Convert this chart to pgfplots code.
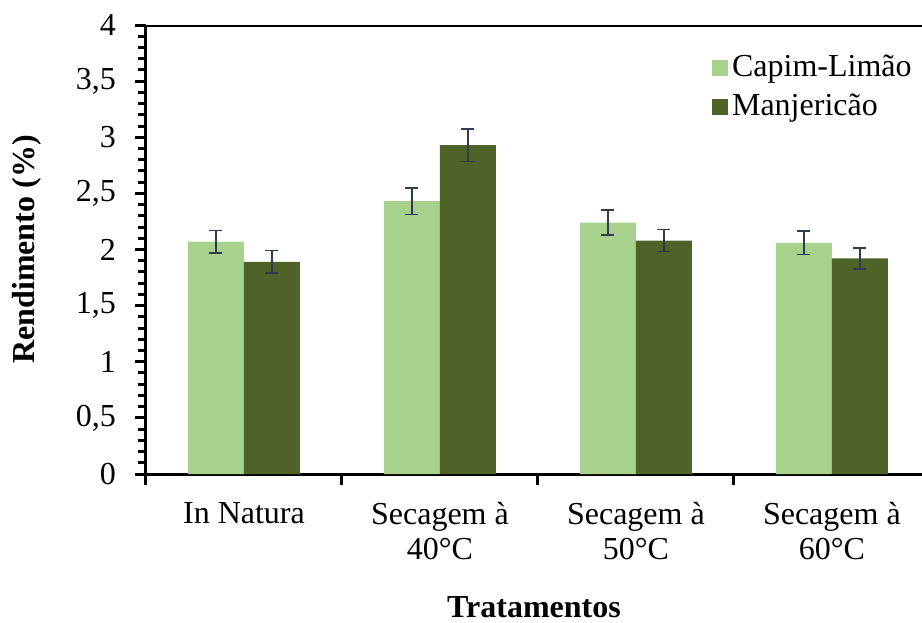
\documentclass[border=0pt]{standalone}
\usepackage{fontspec}
\setmainfont{Liberation Serif}
\usepackage{pgfplots}
\pgfplotsset{compat=1.18}
\definecolor{light}{HTML}{A9D18E}
\definecolor{dark}{HTML}{4F6228}
\definecolor{err}{HTML}{2F3B4E}
\newcommand{\chartfont}{\rmfamily\fontsize{16}{17.5}\selectfont}
\begin{document}
\chartfont
\begin{tikzpicture}
\useasboundingbox (-73pt,-74pt) rectangle (388pt,237pt);
\begin{axis}[
  at={(0,0)}, anchor=south west,
  scale only axis, width=388pt, height=224.5pt,
  xmin=-0.5, xmax=3.46, ymin=0, ymax=4,
  axis x line*=bottom, axis y line*=left,
  axis line style={line width=1.5pt, -, black},
  tick align=outside,
  tick style={line width=1.5pt, black},
  major tick length=5.5pt, minor tick length=4pt,
  ytick={0,0.5,...,4}, minor y tick num=4,
  yticklabel style={/pgf/number format/use comma, /pgf/number format/assume math mode=true, font=\chartfont, xshift=-4pt},
  xtick={-0.5,0.5,1.5,2.5}, xticklabels={},
  extra x ticks={0,1,2,3},
  extra x tick labels={In Natura, {Secagem à\\40°C}, {Secagem à\\50°C}, {Secagem à\\60°C}},
  extra x tick style={major tick length=0pt, xticklabel style={align=center, anchor=north, yshift=-8.5pt, font=\chartfont}},
  xlabel={\bfseries Tratamentos},
  xlabel style={inner sep=0pt, yshift=-7.5pt},
  ylabel={\bfseries Rendimento (\%)},
  ylabel shift=6.5pt,
  label style={font=\chartfont},
  legend style={draw=none, fill=none, at={(1.0,0.952)}, anchor=north east, font=\chartfont, row sep=2.5pt, legend cell align=left},
  legend image code/.code={\fill[#1] (-1.5pt,-4pt) rectangle (6.5pt,4pt);},
  error bars/error bar style={line width=0.75pt, err},
  error bars/error mark options={err, line width=0.75pt, mark size=3.25pt, rotate=90},
]
\addplot[ybar, bar width=0.2857, bar shift=0, fill=light, draw=none,
  error bars/.cd, y dir=both, y explicit]
  coordinates {(-0.14285,2.07) +- (0,0.10) (0.85715,2.43) +- (0,0.12) (1.85715,2.24) +- (0,0.11) (2.85715,2.06) +- (0,0.105)};
\addlegendentry{Capim-Limão}
\addplot[ybar, bar width=0.2857, bar shift=0, fill=dark, draw=none,
  error bars/.cd, y dir=both, y explicit]
  coordinates {(0.14285,1.89) +- (0,0.10) (1.14285,2.93) +- (0,0.145) (2.14285,2.08) +- (0,0.10) (3.14285,1.92) +- (0,0.095)};
\addlegendentry{Manjericão}
\draw[line width=1.5pt, black] (rel axis cs:0,1) -- (rel axis cs:1,1);
\end{axis}
\end{tikzpicture}
\end{document}
